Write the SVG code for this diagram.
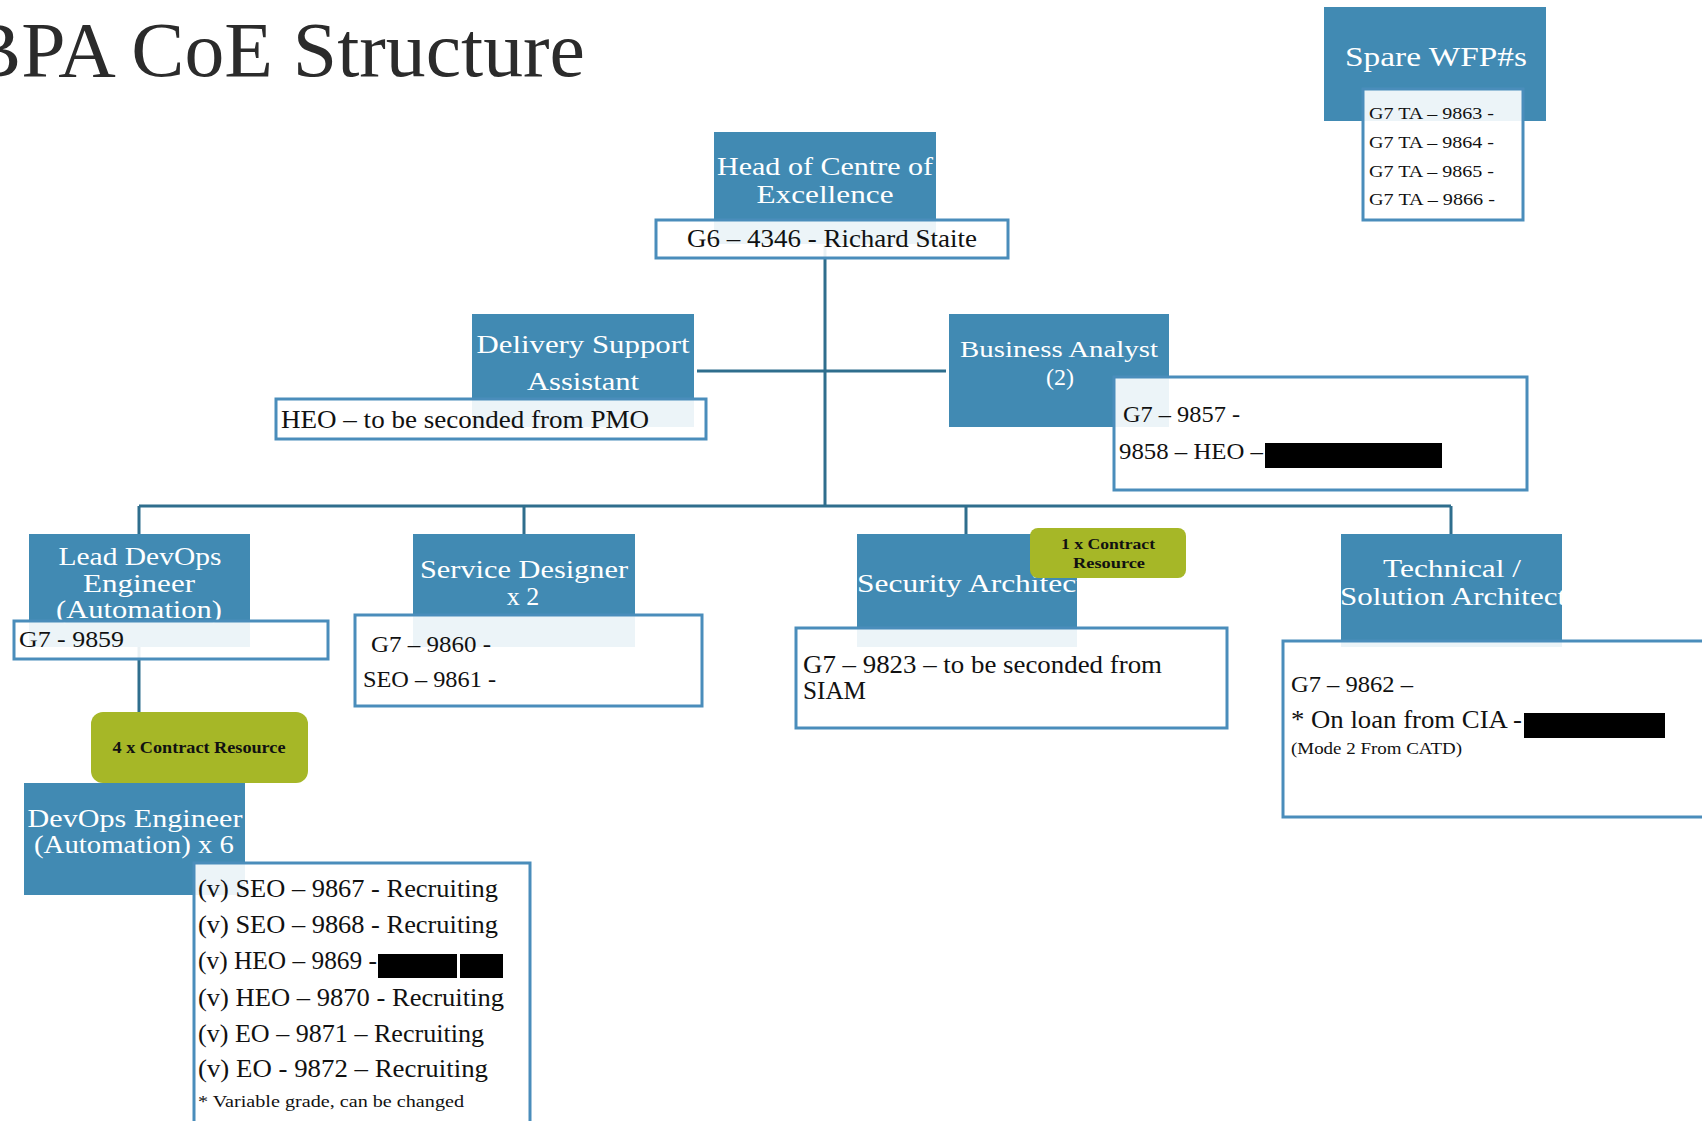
<svg xmlns="http://www.w3.org/2000/svg" width="1702" height="1121" viewBox="0 0 1702 1121">
<style>
text{font-family:"Liberation Serif","DejaVu Serif",serif}
.bl{fill:#418AB3}
.wb{fill:#ffffff;fill-opacity:.9;stroke:#4A8DBB;stroke-width:3}
.gr{fill:#A6B727}
.ti{fill:#ffffff;font-size:26px}
.tc{fill:#ffffff;font-size:26px;text-anchor:middle}
.bk{fill:#111111;font-size:24px}
.sm{fill:#111111;font-size:16px}
.gt{fill:#111111;font-size:15px;font-weight:bold;text-anchor:middle}
.rd{fill:#000000}
.cn{fill:none;stroke:#2F6E8D;stroke-width:3}
</style>
<defs>
<clipPath id="clipSec"><rect x="857" y="534" width="220" height="113"/></clipPath>
<clipPath id="clipTech"><rect x="1341" y="534" width="221" height="113"/></clipPath>
</defs>
<rect x="0" y="0" width="1702" height="1121" fill="#ffffff"/>
<text x="-32" y="76" font-size="78" fill="#2b2b2b" textLength="617" lengthAdjust="spacingAndGlyphs">BPA CoE Structure</text>

<g id="connectors">
<path class="cn" d="M825 245 V506 M697 371 H946 M139 506 H1451 M139 506 V534 M524 506 V534 M966 506 V534 M1451 506 V534 M139 647 V712"/>
</g>

<g id="spare">
<rect class="bl" x="1324" y="7" width="222" height="114"/>
<text class="tc" x="1436" y="66" font-size="28" style="font-size:28px" textLength="182" lengthAdjust="spacingAndGlyphs">Spare WFP#s</text>
<rect class="wb" x="1363" y="89" width="160" height="131"/>
<text class="sm" x="1369" y="119" style="font-size:17px" textLength="125" lengthAdjust="spacingAndGlyphs">G7 TA – 9863 -</text>
<text class="sm" x="1369" y="148" style="font-size:17px" textLength="125" lengthAdjust="spacingAndGlyphs">G7 TA – 9864 -</text>
<text class="sm" x="1369" y="177" style="font-size:17px" textLength="125" lengthAdjust="spacingAndGlyphs">G7 TA – 9865 -</text>
<text class="sm" x="1369" y="205" style="font-size:17px" textLength="126" lengthAdjust="spacingAndGlyphs">G7 TA – 9866 -</text>
</g>

<g id="head">
<rect class="bl" x="714" y="132" width="222" height="112"/>
<text class="tc" x="825" y="175" textLength="216" lengthAdjust="spacingAndGlyphs">Head of Centre of</text>
<text class="tc" x="825" y="203" textLength="137" lengthAdjust="spacingAndGlyphs">Excellence</text>
<rect class="wb" x="656" y="220" width="352" height="38"/>
<text class="bk" x="687" y="247" style="font-size:26px" textLength="290" lengthAdjust="spacingAndGlyphs">G6 – 4346 - Richard Staite</text>
</g>

<g id="delivery-support">
<rect class="bl" x="472" y="314" width="222" height="113"/>
<text class="tc" x="583" y="353" textLength="213" lengthAdjust="spacingAndGlyphs">Delivery Support</text>
<text class="tc" x="583" y="390" textLength="112" lengthAdjust="spacingAndGlyphs">Assistant</text>
<rect class="wb" x="276" y="399" width="430" height="40"/>
<text class="bk" x="281" y="428" style="font-size:25px" textLength="368" lengthAdjust="spacingAndGlyphs">HEO – to be seconded from PMO</text>
</g>

<g id="business-analyst">
<rect class="bl" x="949" y="314" width="220" height="113"/>
<text class="tc" x="1059" y="357" style="font-size:24px" textLength="198" lengthAdjust="spacingAndGlyphs">Business Analyst</text>
<text class="tc" x="1060" y="385" style="font-size:24px">(2)</text>
<rect class="wb" x="1114" y="377" width="413" height="113"/>
<text class="bk" x="1123" y="422" textLength="117" lengthAdjust="spacingAndGlyphs">G7 – 9857 -</text>
<text class="bk" x="1119" y="459" textLength="144" lengthAdjust="spacingAndGlyphs">9858 – HEO –</text>
<rect class="rd" x="1265" y="443" width="177" height="25"/>
</g>

<g id="lead-devops">
<rect class="bl" x="29" y="534" width="221" height="113"/>
<text class="tc" x="140" y="565" textLength="163" lengthAdjust="spacingAndGlyphs">Lead DevOps</text>
<text class="tc" x="139" y="592" textLength="112" lengthAdjust="spacingAndGlyphs">Engineer</text>
<text class="tc" x="139" y="618" textLength="166" lengthAdjust="spacingAndGlyphs">(Automation)</text>
<rect class="wb" x="14" y="621" width="314" height="38"/>
<text class="bk" x="19" y="647" textLength="105" lengthAdjust="spacingAndGlyphs">G7 - 9859</text>
</g>

<g id="service-designer">
<rect class="bl" x="413" y="534" width="222" height="113"/>
<text class="tc" x="524" y="578" textLength="208" lengthAdjust="spacingAndGlyphs">Service Designer</text>
<text class="tc" x="523" y="605">x 2</text>
<rect class="wb" x="355" y="615" width="347" height="91"/>
<text class="bk" x="371" y="652" textLength="120" lengthAdjust="spacingAndGlyphs">G7 – 9860 -</text>
<text class="bk" x="363" y="687" textLength="133" lengthAdjust="spacingAndGlyphs">SEO – 9861 -</text>
</g>

<g id="security-architect">
<rect class="bl" x="857" y="534" width="220" height="113"/>
<text class="ti" x="857" y="592" clip-path="url(#clipSec)" textLength="228" lengthAdjust="spacingAndGlyphs">Security Architect</text>
<rect class="wb" x="796" y="628" width="431" height="100"/>
<text class="bk" x="803" y="673" style="font-size:25px" textLength="359" lengthAdjust="spacingAndGlyphs">G7 – 9823 – to be seconded from</text>
<text class="bk" x="803" y="699" style="font-size:25px" textLength="63" lengthAdjust="spacingAndGlyphs">SIAM</text>
<rect class="gr" x="1030" y="528" width="156" height="50" rx="8"/>
<text class="gt" x="1108" y="549" textLength="94" lengthAdjust="spacingAndGlyphs">1 x Contract</text>
<text class="gt" x="1109" y="568" textLength="72" lengthAdjust="spacingAndGlyphs">Resource</text>
</g>

<g id="technical-architect">
<rect class="bl" x="1341" y="534" width="221" height="113"/>
<text class="tc" x="1452" y="577" textLength="138" lengthAdjust="spacingAndGlyphs">Technical /</text>
<text class="ti" x="1340" y="605" clip-path="url(#clipTech)" textLength="226" lengthAdjust="spacingAndGlyphs">Solution Architect</text>
<rect class="wb" x="1283" y="641" width="440" height="176"/>
<text class="bk" x="1291" y="692" textLength="122" lengthAdjust="spacingAndGlyphs">G7 – 9862 –</text>
<text class="bk" x="1291" y="728" style="font-size:25px" textLength="231" lengthAdjust="spacingAndGlyphs">* On loan from CIA -</text>
<rect class="rd" x="1524" y="713" width="141" height="25"/>
<text class="sm" x="1291" y="754" textLength="171" lengthAdjust="spacingAndGlyphs">(Mode 2 From CATD)</text>
</g>

<g id="devops-engineer">
<rect class="gr" x="91" y="712" width="217" height="71" rx="12"/>
<text class="gt" x="199" y="753" style="font-size:16px" textLength="173" lengthAdjust="spacingAndGlyphs">4 x Contract Resource</text>
<rect class="bl" x="24" y="783" width="221" height="112"/>
<text class="tc" x="135" y="827" textLength="215" lengthAdjust="spacingAndGlyphs">DevOps Engineer</text>
<text class="tc" x="134" y="853" textLength="200" lengthAdjust="spacingAndGlyphs">(Automation) x 6</text>
<rect class="wb" x="194" y="863" width="336" height="270"/>
<text class="bk" x="198" y="897" style="font-size:25px" textLength="300" lengthAdjust="spacingAndGlyphs">(v) SEO – 9867 - Recruiting</text>
<text class="bk" x="198" y="933" style="font-size:25px" textLength="300" lengthAdjust="spacingAndGlyphs">(v) SEO – 9868 - Recruiting</text>
<text class="bk" x="198" y="969" style="font-size:25px" textLength="179" lengthAdjust="spacingAndGlyphs">(v) HEO – 9869 -</text>
<rect class="rd" x="378" y="954" width="79" height="24"/>
<rect class="rd" x="460" y="954" width="43" height="24"/>
<text class="bk" x="198" y="1006" style="font-size:25px" textLength="306" lengthAdjust="spacingAndGlyphs">(v) HEO – 9870 - Recruiting</text>
<text class="bk" x="198" y="1042" style="font-size:25px" textLength="286" lengthAdjust="spacingAndGlyphs">(v) EO – 9871 – Recruiting</text>
<text class="bk" x="198" y="1077" style="font-size:25px" textLength="290" lengthAdjust="spacingAndGlyphs">(v) EO  - 9872 – Recruiting</text>
<text class="sm" x="198" y="1107" textLength="266" lengthAdjust="spacingAndGlyphs">* Variable grade, can be changed</text>
</g>
</svg>
